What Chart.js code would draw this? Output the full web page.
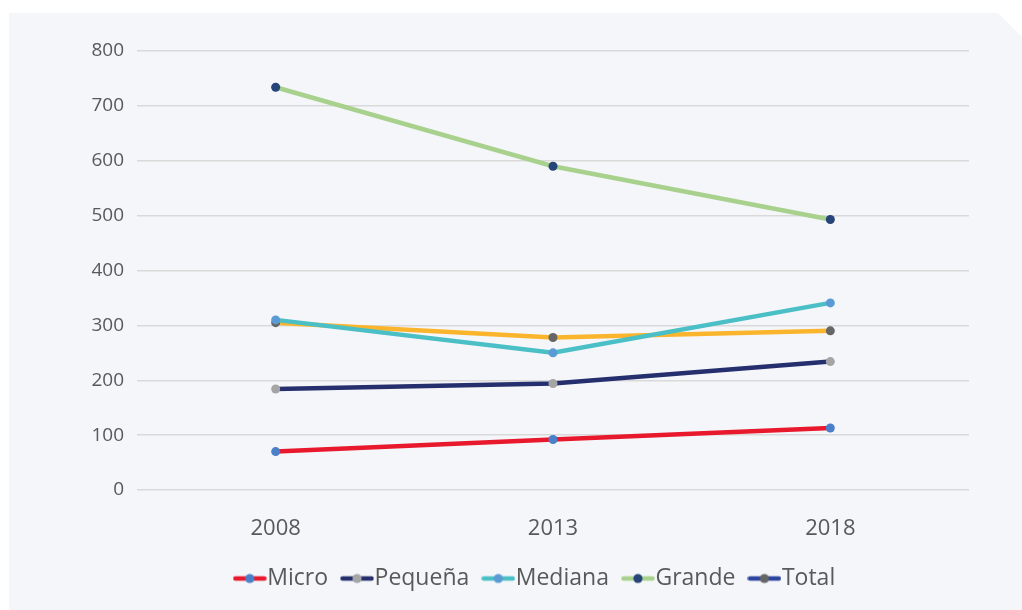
<!DOCTYPE html>
<html>
<head>
<meta charset="utf-8">
<script src="https://cdn.jsdelivr.net/npm/chart.js@4/dist/chart.umd.min.js"></script>
<style>
  html, body { margin: 0; padding: 0; background: #ffffff; }
  #chart { display: block; }
</style>
</head>
<body>
<canvas id="chart" width="1022" height="610"></canvas>
<script>
// data
const years = ['2008', '2013', '2018'];
const micro = [70, 92, 113];
const pequena = [184, 194, 234];
const mediana = [310, 250, 341];
const grande = [734, 590, 493];
const total = [305, 278, 290];

const seriesNames = ['Micro', 'Pequeña', 'Mediana', 'Grande', 'Total'];
const seriesData = [micro, pequena, mediana, grande, total];
const lineColors = ['#e8192c', '#262f6e', '#4bbfc6', '#a9d18e', '#fbb52d'];
const pointColors = ['#4a7fc9', '#a5a5a5', '#5b9bd5', '#264478', '#666666'];
// the legend of the original shows a blue line for Total
const legendLineColors = ['#e8192c', '#262f6e', '#4bbfc6', '#a9d18e', '#2e45a0'];

const FONT = '"Open Sans", "Noto Sans", sans-serif';

function legendIcon(lineColor, dotColor) {
    const c = document.createElement('canvas');
    c.width = 34;
    c.height = 12;
    const g = c.getContext('2d');
    g.strokeStyle = lineColor;
    g.lineWidth = 4.5;
    g.lineCap = 'round';
    g.beginPath();
    g.moveTo(2.5, 6);
    g.lineTo(31.5, 6);
    g.stroke();
    g.fillStyle = dotColor;
    g.beginPath();
    g.arc(17, 6, 4.6, 0, Math.PI * 2);
    g.fill();
    return c;
}

const cardPlugin = {
    id: 'card',
    beforeDraw(chart) {
        const ctx = chart.ctx;
        ctx.save();
        ctx.fillStyle = '#f5f6fa';
        ctx.beginPath();
        ctx.moveTo(9, 13);
        ctx.lineTo(998, 13);
        ctx.lineTo(1022, 37);
        ctx.lineTo(1022, 610);
        ctx.lineTo(9, 610);
        ctx.closePath();
        ctx.fill();
        ctx.restore();
    }
};

const LEGEND_SHIFT = 55;
const legendShift = {
    id: 'legendShift',
    afterLayout(chart) {
        chart.legend.left += LEGEND_SHIFT;
        chart.legend.right += LEGEND_SHIFT;
    }
};

const datasets = seriesNames.map((name, i) => ({
    label: name,
    data: seriesData[i],
    borderColor: lineColors[i],
    backgroundColor: pointColors[i],
    pointBackgroundColor: pointColors[i],
    pointBorderWidth: 0,
    pointRadius: 4.5,
    pointHoverRadius: 4.5,
    borderWidth: 4.5,
    tension: 0,
    fill: false
}));

new Chart(document.getElementById('chart'), {
    type: 'line',
    data: { labels: years, datasets: datasets },
    options: {
        responsive: false,
        animation: false,
        layout: { padding: { left: 0, right: 53, top: 51, bottom: 10 } },
        plugins: {
            tooltip: { enabled: false },
            legend: {
                position: 'bottom',
                labels: {
                    usePointStyle: true,
                    pointStyleWidth: 12,
                    padding: 23,
                    color: '#595959',
                    font: { family: FONT, size: 23 },
                    generateLabels(chart) {
                        return seriesNames.map((name, i) => ({
                            text: name,
                            pointStyle: legendIcon(legendLineColors[i], pointColors[i]),
                            fillStyle: pointColors[i],
                            strokeStyle: legendLineColors[i],
                            fontColor: '#595959',
                            lineWidth: 0,
                            hidden: false,
                            datasetIndex: i
                        }));
                    }
                }
            }
        },
        scales: {
            x: {
                offset: true,
                grid: { display: false },
                border: { display: false },
                ticks: { color: '#595959', font: { family: FONT, size: 22 }, padding: 18 },
                afterFit(scale) { scale.height = 54; }
            },
            y: {
                min: 0,
                max: 800,
                grid: { color: '#d9d9d9', lineWidth: 1.5, drawTicks: false },
                border: { display: false },
                ticks: { stepSize: 100, color: '#595959', font: { family: FONT, size: 19 }, padding: 13 },
                afterFit(scale) { scale.width = 137; }
            }
        }
    },
    plugins: [cardPlugin, legendShift]
});
</script>
</body>
</html>
